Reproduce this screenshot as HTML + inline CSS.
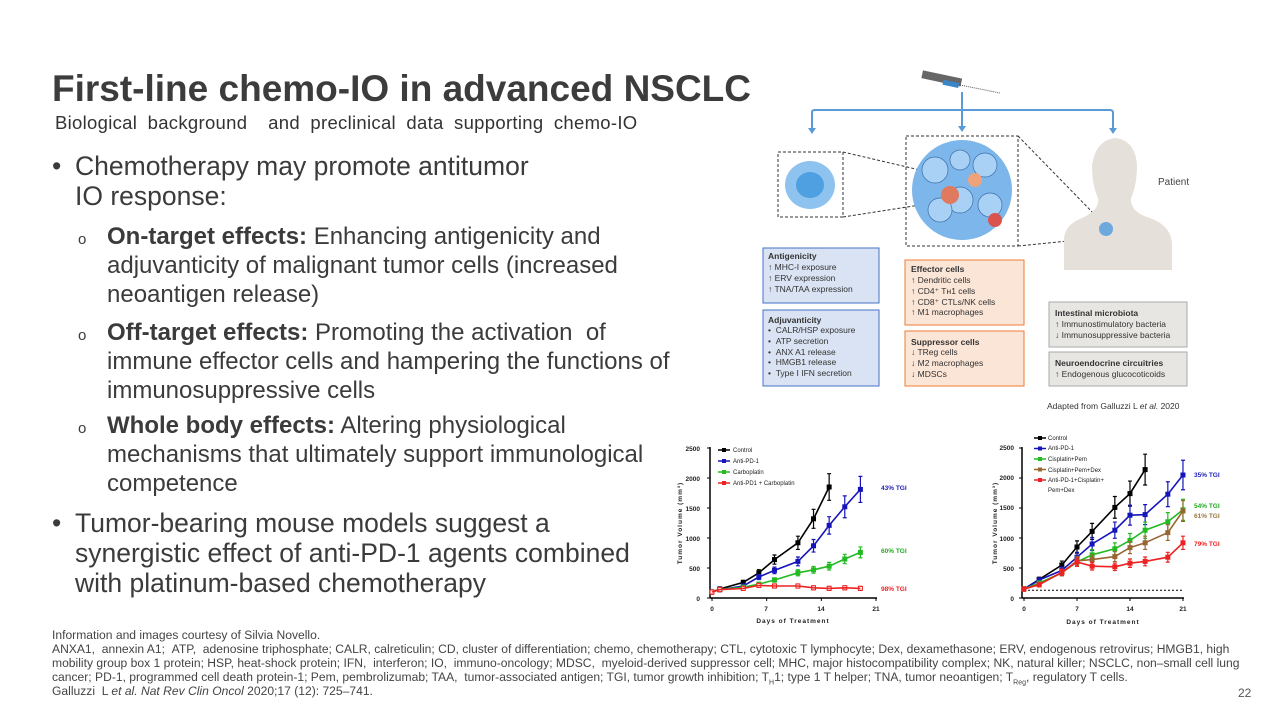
<!DOCTYPE html>
<html><head><meta charset="utf-8"><style>
body{margin:0;width:1280px;height:720px;background:#fff;position:relative;overflow:hidden;font-family:"Liberation Sans",sans-serif;color:#3b3b3b}
.a{position:absolute;white-space:nowrap}
.t{left:52px;top:68px;font-size:37px;font-weight:bold;color:#3c3c3c}
.st{left:55px;top:112px;font-size:18.5px;color:#333;word-spacing:5px;letter-spacing:0.3px}
.b{font-size:26.5px;line-height:30px;color:#3b3b3b}
.s{font-size:24px;line-height:29px;color:#3b3b3b}
.fn{left:52px;top:628px;font-size:12.1px;line-height:14px;color:#444}
svg text{font-family:"Liberation Sans",sans-serif}
</style></head><body>
<div class="a t">First-line chemo-IO in advanced NSCLC</div>
<div class="a st">Biological background &nbsp;and preclinical data supporting chemo-IO</div>
<div class="a b" style="left:52px;top:151px">•</div>
<div class="a b" style="left:75px;top:151px">Chemotherapy may promote antitumor<br>IO response:</div>
<div class="a s" style="left:78px;top:225px;font-size:15px">o</div>
<div class="a s" style="left:107px;top:222px"><b>On-target effects:</b> Enhancing antigenicity and<br>adjuvanticity of malignant tumor cells (increased<br>neoantigen release)</div>
<div class="a s" style="left:78px;top:321px;font-size:15px">o</div>
<div class="a s" style="left:107px;top:318px"><b>Off-target effects:</b> Promoting the activation &nbsp;of<br>immune effector cells and hampering the functions of<br>immunosuppressive cells</div>
<div class="a s" style="left:78px;top:414px;font-size:15px">o</div>
<div class="a s" style="left:107px;top:411px"><b>Whole body effects:</b> Altering physiological<br>mechanisms that ultimately support immunological<br>competence</div>
<div class="a b" style="left:52px;top:508px">•</div>
<div class="a b" style="left:75px;top:508px">Tumor-bearing mouse models suggest a<br>synergistic effect of anti-PD-1 agents combined<br>with platinum-based chemotherapy</div>
<div class="a fn">Information and images courtesy of Silvia Novello.<br>ANXA1, &nbsp;annexin A1; &nbsp;ATP, &nbsp;adenosine triphosphate; CALR, calreticulin; CD, cluster of differentiation; chemo, chemotherapy; CTL, cytotoxic T lymphocyte; Dex, dexamethasone; ERV, endogenous retrovirus; HMGB1, high<br>mobility group box 1 protein; HSP, heat-shock protein; IFN, &nbsp;interferon; IO, &nbsp;immuno-oncology; MDSC, &nbsp;myeloid-derived suppressor cell; MHC, major histocompatibility complex; NK, natural killer; NSCLC, non–small cell lung<br>cancer; PD-1, programmed cell death protein-1; Pem, pembrolizumab; TAA, &nbsp;tumor-associated antigen; TGI, tumor growth inhibition; T<sub style="font-size:7px;line-height:0">H</sub>1; type 1 T helper; TNA, tumor neoantigen; T<sub style="font-size:7px;line-height:0">Reg</sub>, regulatory T cells.<br>Galluzzi &nbsp;L <i>et al. Nat Rev Clin Oncol</i> 2020;17 (12): 725–741.</div>
<div class="a" style="left:1238px;top:686px;font-size:12px;color:#555">22</div>

<svg class="a" style="left:0;top:0" width="1280" height="720" id="s">
<g stroke="#5b9bd5" stroke-width="2" fill="none">
<path d="M962 92V110M812 128V112Q812 110 815 110H1110Q1113 110 1113 113V128M962 110V126"/>
</g>
<g fill="#5b9bd5"><path d="M808 128h8l-4 6z M958 126h8l-4 6z M1109 128h8l-4 6z"/></g>
<rect x="922" y="74" width="40" height="8" fill="#666" transform="rotate(12 940 77)"/>
<rect x="944" y="79" width="16" height="5" fill="#3a86c8" transform="rotate(12 940 77)"/>
<line x1="960" y1="85" x2="1000" y2="93" stroke="#555" stroke-dasharray="1,1"/>
<g stroke="#333" stroke-dasharray="3,2" fill="none">
<rect x="778" y="152" width="65" height="65"/><rect x="906" y="136" width="112" height="110"/>
<line x1="843" y1="152" x2="920" y2="170"/><line x1="843" y1="217" x2="920" y2="205"/>
<line x1="1018" y1="136" x2="1098" y2="218"/><line x1="1018" y1="246" x2="1098" y2="238"/>
</g>
<ellipse cx="810" cy="185" rx="25" ry="24" fill="#8ec2ef"/><ellipse cx="810" cy="185" rx="14" ry="13" fill="#4ea0e0"/>
<circle cx="962" cy="190" r="50" fill="#7cb6ea"/>
<g fill="#a9d1f5" stroke="#3c6ea8" stroke-width=".7"><circle cx="935" cy="170" r="13"/><circle cx="985" cy="165" r="12"/><circle cx="960" cy="200" r="13"/><circle cx="940" cy="210" r="12"/><circle cx="990" cy="205" r="12"/><circle cx="960" cy="160" r="10"/></g>
<circle cx="950" cy="195" r="9" fill="#e07a5f"/><circle cx="995" cy="220" r="7" fill="#d9534f"/><circle cx="975" cy="180" r="7" fill="#f0a27a"/>
<path d="M1064 270V240Q1064 225 1082 218Q1100 210 1098 198Q1092 185 1092 165Q1096 140 1115 138Q1135 140 1137 165Q1137 185 1131 198Q1130 212 1150 218Q1172 226 1172 245V270Z" fill="#e6e0da"/>
<text x="1158" y="185" font-size="10" fill="#444">Patient</text>
<circle cx="1106" cy="229" r="7" fill="#6fa8dc"/>
<g font-size="8.5" fill="#333">
<rect x="763" y="248" width="116" height="55" fill="#dae3f3" stroke="#4472c4"/>
<text x="768" y="259" font-weight="bold">Antigenicity</text><text x="768" y="270">↑ MHC-I exposure</text><text x="768" y="281">↑ ERV expression</text><text x="768" y="292">↑ TNA/TAA expression</text>
<rect x="763" y="310" width="116" height="76" fill="#dae3f3" stroke="#4472c4"/>
<text x="768" y="323" font-weight="bold">Adjuvanticity</text><text x="768" y="333">•&#160;&#160;CALR/HSP exposure</text><text x="768" y="344">•&#160;&#160;ATP secretion</text><text x="768" y="355">•&#160;&#160;ANX A1 release</text><text x="768" y="365">•&#160;&#160;HMGB1 release</text><text x="768" y="376">•&#160;&#160;Type I IFN secretion</text>
<rect x="905" y="260" width="119" height="65" fill="#fbe5d6" stroke="#ed7d31"/>
<text x="911" y="272" font-weight="bold">Effector cells</text><text x="911" y="283">↑ Dendritic cells</text><text x="911" y="294">↑ CD4⁺ Tн1 cells</text><text x="911" y="305">↑ CD8⁺ CTLs/NK cells</text><text x="911" y="315">↑ M1 macrophages</text>
<rect x="905" y="331" width="119" height="55" fill="#fbe5d6" stroke="#ed7d31"/>
<text x="911" y="345" font-weight="bold">Suppressor cells</text><text x="911" y="355">↓ TReg cells</text><text x="911" y="366">↓ M2 macrophages</text><text x="911" y="377">↓ MDSCs</text>
<rect x="1049" y="302" width="138" height="45" fill="#e8e6e3" stroke="#aaa"/>
<text x="1055" y="316" font-weight="bold">Intestinal microbiota</text><text x="1055" y="327">↑ Immunostimulatory bacteria</text><text x="1055" y="338">↓ Immunosuppressive bacteria</text>
<rect x="1049" y="352" width="138" height="34" fill="#e8e6e3" stroke="#aaa"/>
<text x="1055" y="366" font-weight="bold">Neuroendocrine circuitries</text><text x="1055" y="377">↑ Endogenous glucocoticoids</text>
<text x="1047" y="409">Adapted from Galluzzi L <tspan font-style="italic">et al.</tspan> 2020</text>
</g>
<g id="c1"></g><g id="c2"></g>
<g font-size="6.5" font-weight="bold" fill="#222">
<text x="700" y="451" text-anchor="end">2500</text><text x="700" y="481" text-anchor="end">2000</text><text x="700" y="511" text-anchor="end">1500</text><text x="700" y="541" text-anchor="end">1000</text><text x="700" y="571" text-anchor="end">500</text><text x="700" y="601" text-anchor="end">0</text>
<text x="712" y="611" text-anchor="middle">0</text><text x="766" y="611" text-anchor="middle">7</text><text x="821" y="611" text-anchor="middle">14</text><text x="876" y="611" text-anchor="middle">21</text>
<text x="793" y="623" text-anchor="middle" letter-spacing="1">Days of Treatment</text>
<text transform="translate(682 523) rotate(-90)" text-anchor="middle" letter-spacing="1">Tumor Volume (mm³)</text>
<text x="1014" y="450" text-anchor="end">2500</text><text x="1014" y="480" text-anchor="end">2000</text><text x="1014" y="510" text-anchor="end">1500</text><text x="1014" y="541" text-anchor="end">1000</text><text x="1014" y="571" text-anchor="end">500</text><text x="1014" y="601" text-anchor="end">0</text>
<text x="1024" y="611" text-anchor="middle">0</text><text x="1077" y="611" text-anchor="middle">7</text><text x="1130" y="611" text-anchor="middle">14</text><text x="1183" y="611" text-anchor="middle">21</text>
<text x="1103" y="624" text-anchor="middle" letter-spacing="1">Days of Treatment</text>
<text transform="translate(997 523) rotate(-90)" text-anchor="middle" letter-spacing="1">Tumor Volume (mm³)</text>
<text x="881" y="490" fill="#2222bb">43% TGI</text><text x="881" y="553" fill="#22aa22">60% TGI</text><text x="881" y="591" fill="#ee2222">98% TGI</text>
<text x="1194" y="477" fill="#2222bb">35% TGI</text><text x="1194" y="508" fill="#22aa22">54% TGI</text><text x="1194" y="518" fill="#997744">61% TGI</text><text x="1194" y="546" fill="#ee2222">79% TGI</text>
</g>
<g font-size="6" fill="#222">
<text x="733" y="452">Control</text><text x="733" y="463">Anti-PD-1</text><text x="733" y="474">Carboplatin</text><text x="733" y="485">Anti-PD1 + Carboplatin</text>
<text x="1048" y="440">Control</text><text x="1048" y="450">Anti-PD-1</text><text x="1048" y="461">Cisplatin+Pem</text><text x="1048" y="472">Cisplatin+Pem+Dex</text><text x="1048" y="482">Anti-PD-1+Cisplatin+</text><text x="1048" y="492">Pem+Dex</text>
</g>
</svg>
<script>
function chart(g,x0,dx,y0,days,series,dot,leg){
 var h='<line x1="'+(x0-2)+'" y1="'+(y0-151)+'" x2="'+(x0-2)+'" y2="'+y0+'" stroke="#000" stroke-width="1.5"/><line x1="'+(x0-2)+'" y1="'+y0+'" x2="'+(x0+21*dx+1)+'" y2="'+y0+'" stroke="#000" stroke-width="1.5"/>';
 for(var i=0;i<=5;i++)h+='<line x1="'+(x0-5)+'" y1="'+(y0-30*i)+'" x2="'+(x0-2)+'" y2="'+(y0-30*i)+'" stroke="#000"/>';
 for(var i=0;i<=3;i++)h+='<line x1="'+(x0+7*i*dx)+'" y1="'+y0+'" x2="'+(x0+7*i*dx)+'" y2="'+(y0+3)+'" stroke="#000"/>';
 if(dot)h+='<line x1="'+x0+'" y1="'+(y0-130*0.06)+'" x2="'+(x0+21*dx)+'" y2="'+(y0-130*0.06)+'" stroke="#000" stroke-dasharray="2,2"/>';
 series.forEach(function(s,k){var p=[];s.v.forEach(function(v,i){var x=x0+days[i]*dx,y=y0-v*0.06;p.push(x+','+y);var e=Math.max(2,v*0.06*0.12);
  h+='<path d="M'+x+' '+(y-e)+'V'+(y+e)+'M'+(x-2)+' '+(y-e)+'h4M'+(x-2)+' '+(y+e)+'h4" stroke="'+s.c+'" stroke-width="1.2"/>';
  h+='<rect x="'+(x-2)+'" y="'+(y-2)+'" width="4" height="4" fill="'+(s.o?'#fff':s.c)+'" stroke="'+s.c+'"/>';});
  h+='<polyline points="'+p.join(' ')+'" fill="none" stroke="'+s.c+'" stroke-width="1.6"/>';
  var ly=leg[0]+k*leg[2];h+='<line x1="'+leg[1]+'" y1="'+ly+'" x2="'+(leg[1]+12)+'" y2="'+ly+'" stroke="'+s.c+'" stroke-width="1.5"/><rect x="'+(leg[1]+4)+'" y="'+(ly-2)+'" width="4" height="4" fill="'+s.c+'"/>';});
 document.getElementById(g).innerHTML=h;}
chart('c1',712,7.81,598,[0,1,4,6,8,11,13,15,17,19],[
 {c:'#000',v:[100,150,260,420,640,920,1320,1850]},
 {c:'#1515bb',v:[100,140,200,350,460,610,870,1210,1520,1810]},
 {c:'#22bb22',v:[100,140,180,230,300,420,470,530,650,760]},
 {c:'#ee2222',o:1,v:[100,140,160,210,200,200,170,160,170,160]}],0,[450,718,11]);
chart('c2',1024,7.57,598,[0,2,5,7,9,12,14,16,19,21],[
 {c:'#000',v:[150,310,550,850,1110,1510,1740,2140]},
 {c:'#1515bb',v:[150,300,460,680,900,1130,1380,1390,1730,2050]},
 {c:'#22bb22',v:[150,250,420,600,720,820,960,1130,1270,1470]},
 {c:'#996633',v:[150,230,420,620,640,690,840,920,1090,1450]},
 {c:'#ee2222',v:[150,220,430,600,530,520,580,610,680,920]}],1,[438,1034,10.5]);
</script>
</body></html>
